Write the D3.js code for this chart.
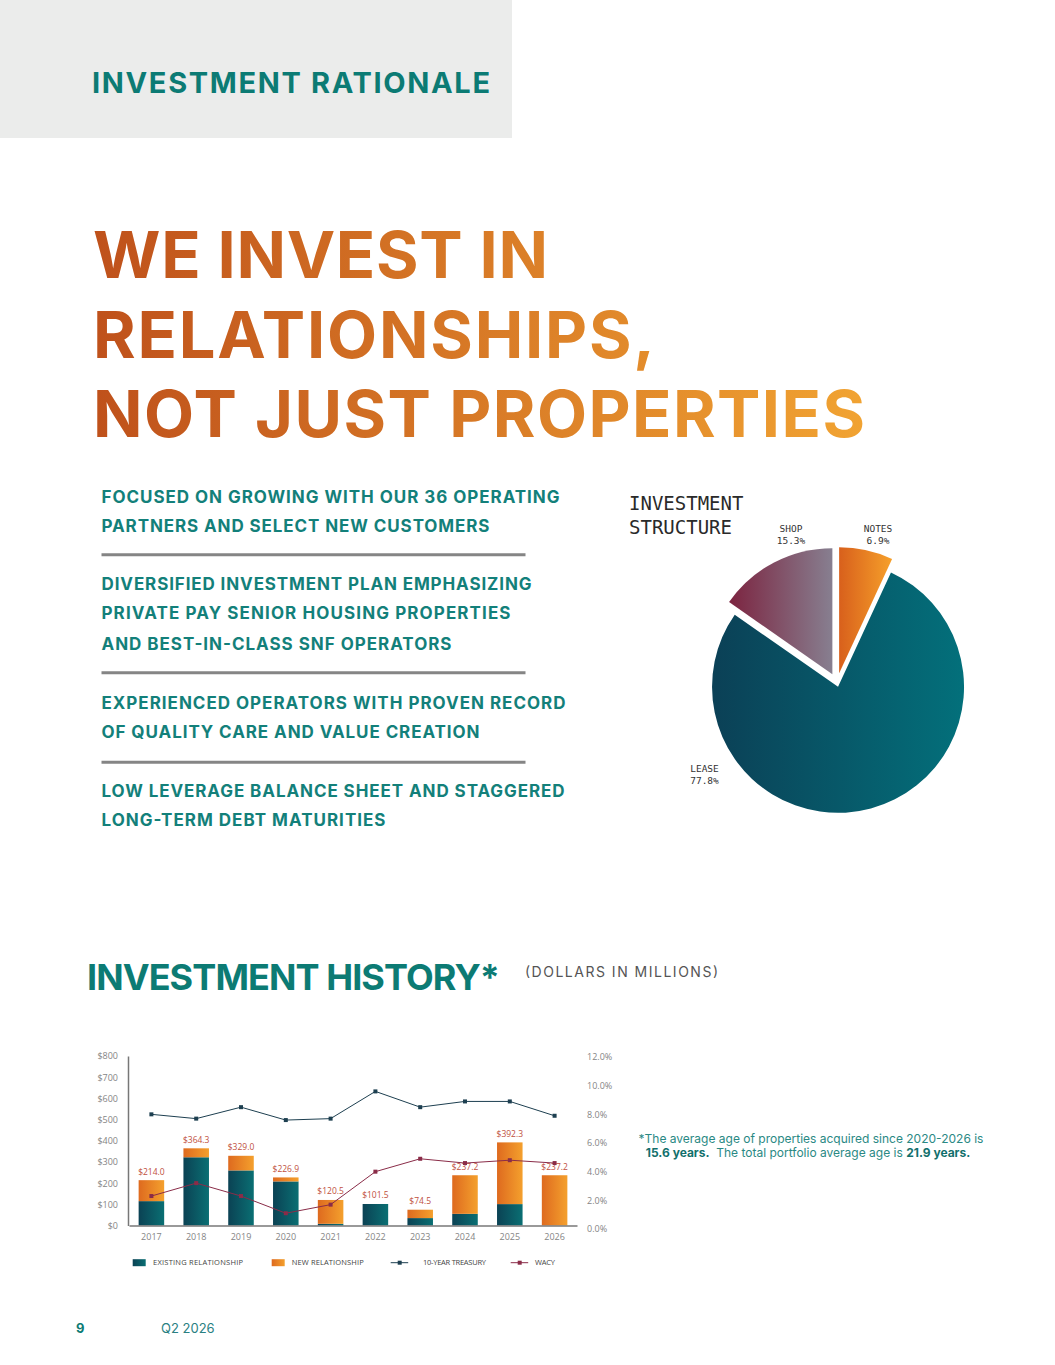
<!DOCTYPE html>
<html>
<head>
<meta charset="utf-8">
<script src="https://cdn.jsdelivr.net/npm/d3@7"></script>
<style>
  body { margin: 0; background: #fff; }
  svg { display: block; }
</style>
</head>
<body>
<div id="page"></div>
<script>
// ---- data ----
const years = ["2017", "2018", "2019", "2020", "2021", "2022", "2023", "2024", "2025", "2026"];
const existingRel = [115, 322, 260, 208, 8, 101.5, 35, 55, 101, 0];
const newRel = [99.0, 42.3, 69.0, 18.9, 112.5, 0, 39.5, 182.2, 291.3, 237.2];
const totals = [214.0, 364.3, 329.0, 226.9, 120.5, 101.5, 74.5, 237.2, 392.3, 237.2];
const treasury = [8.0, 7.7, 8.5, 7.6, 7.7, 9.6, 8.5, 8.9, 8.9, 7.9];
const wacy = [2.3, 3.2, 2.3, 1.1, 1.7, 4.0, 4.9, 4.6, 4.8, 4.6];
const dollarTicks = [0, 100, 200, 300, 400, 500, 600, 700, 800];
const pctTicks = [0, 2, 4, 6, 8, 10, 12];
const legendLabels = ["EXISTING RELATIONSHIP", "NEW RELATIONSHIP", "10-YEAR TREASURY", "WACY"];

const pieLabels = ["NOTES", "LEASE", "SHOP"];
const pieValues = [6.9, 77.8, 15.3];

const bulletGroups = [
  ["FOCUSED ON GROWING WITH OUR 36 OPERATING", "PARTNERS AND SELECT NEW CUSTOMERS"],
  ["DIVERSIFIED INVESTMENT PLAN EMPHASIZING", "PRIVATE PAY SENIOR HOUSING PROPERTIES", "AND BEST-IN-CLASS SNF OPERATORS"],
  ["EXPERIENCED OPERATORS WITH PROVEN RECORD", "OF QUALITY CARE AND VALUE CREATION"],
  ["LOW LEVERAGE BALANCE SHEET AND STAGGERED", "LONG-TERM DEBT MATURITIES"]
];
const titleLines = ["WE INVEST IN", "RELATIONSHIPS,", "NOT JUST PROPERTIES"];

// ---- page ----
const W = 1055, H = 1365;
const teal = "#0c7b74";
const svg = d3.select("#page").append("svg")
  .attr("width", W)
  .attr("height", H);
const defs = svg.append("defs");

function hGrad(id, from, to, attrs) {
  const g = defs.append("linearGradient").attr("id", id)
    .attr("x1", 0).attr("x2", 1).attr("y1", 0).attr("y2", 0);
  if (attrs) Object.entries(attrs).forEach(([k, v]) => g.attr(k, v));
  g.append("stop").attr("offset", "0%").attr("stop-color", from);
  g.append("stop").attr("offset", "100%").attr("stop-color", to);
  return g;
}
hGrad("titleGrad", "#bf511b", "#f1a332", {gradientUnits: "userSpaceOnUse", x1: 93, x2: 865});
hGrad("existGrad", "#0b4254", "#0a6f73");
hGrad("newGrad", "#de6a1f", "#f4a02d");
hGrad("leaseGrad", "#0b4056", "#03707b");
hGrad("shopGrad", "#7c2440", "#877f90");
hGrad("notesGrad", "#d8601c", "#f6a02a");

// header box
svg.append("rect")
  .attr("x", 0).attr("y", 0)
  .attr("width", 512).attr("height", 138)
  .attr("fill", "#ebeceb");
svg.append("text")
  .text("INVESTMENT RATIONALE")
  .attr("x", 92).attr("y", 93)
  .attr("font-family", "Inter").attr("font-weight", 700)
  .attr("font-size", 29)
  .attr("textLength", 398).attr("lengthAdjust", "spacing")
  .attr("fill", teal);

// big title
const titleWidths = [455, 562, 772];
svg.selectAll(".title-line")
  .data(titleLines)
  .enter().append("text")
    .attr("class", "title-line")
    .text(d => d)
    .attr("x", 93)
    .attr("y", (d, i) => 278 + i * 79.5)
    .attr("font-family", "Inter").attr("font-weight", 700)
    .attr("font-size", 65)
    .attr("textLength", (d, i) => titleWidths[i]).attr("lengthAdjust", "spacing")
    .attr("fill", "url(#titleGrad)");

// bullets
const bulletBaselines = [[502.7, 531.7], [590, 619.3, 650], [709.3, 738.3], [796.7, 826]];
const bulletLens = [[458, 388], [430, 409, 350], [464, 378], [463, 284]];
const separators = [554.7, 672.7, 762.3];
bulletGroups.forEach((grp, gi) => {
  grp.forEach((line, li) => {
    svg.append("text")
      .text(line)
      .attr("x", 101.5)
      .attr("y", bulletBaselines[gi][li])
      .attr("font-family", "Inter").attr("font-weight", 700)
      .attr("font-size", 17)
      .attr("textLength", bulletLens[gi][li]).attr("lengthAdjust", "spacing")
      .attr("fill", "#13807a");
  });
});
svg.selectAll(".sep")
  .data(separators)
  .enter().append("line")
    .attr("x1", 101.5).attr("x2", 525.5)
    .attr("y1", d => d).attr("y2", d => d)
    .attr("stroke", "#858585")
    .attr("stroke-width", 3);

// ---- pie ----
const pieTitle = svg.append("text")
  .attr("font-family", "DejaVu Sans Mono")
  .attr("font-size", 19)
  .attr("fill", "#2a2a2a");
pieTitle.append("tspan").text("INVESTMENT").attr("x", 629).attr("y", 509.5);
pieTitle.append("tspan").text("STRUCTURE").attr("x", 629).attr("y", 534);

const pieCx = 837, pieCy = 683, pieR = 126;
const pieGrads = {NOTES: "url(#notesGrad)", LEASE: "url(#leaseGrad)", SHOP: "url(#shopGrad)"};
const pieOffsets = {NOTES: 10, LEASE: 4, SHOP: 10};
const pie = d3.pie().sort(null).value(d => d.value);
const arc = d3.arc().innerRadius(0).outerRadius(pieR);
const pieData = pie(pieLabels.map((l, i) => ({label: l, value: pieValues[i]})));
const pieG = svg.append("g").attr("transform", `translate(${pieCx},${pieCy})`);
pieG.selectAll("path")
  .data(pieData)
  .enter().append("path")
    .attr("d", arc)
    .attr("transform", d => {
      const a = (d.startAngle + d.endAngle) / 2;
      const off = pieOffsets[d.data.label];
      return `translate(${Math.sin(a) * off},${-Math.cos(a) * off})`;
    })
    .attr("fill", d => pieGrads[d.data.label]);

// pie labels
const pieLabelPos = {SHOP: [791, 531.7], NOTES: [878, 531.7], LEASE: [704.5, 771.7]};
pieData.forEach(d => {
  const [lx, ly] = pieLabelPos[d.data.label];
  const t = svg.append("text")
    .attr("font-family", "DejaVu Sans Mono")
    .attr("font-size", 9.5)
    .attr("text-anchor", "middle")
    .attr("fill", "#333");
  t.append("tspan").text(d.data.label).attr("x", lx).attr("y", ly);
  t.append("tspan").text(d.data.value.toFixed(1) + "%").attr("x", lx).attr("y", ly + 12);
});

// ---- investment history ----
svg.append("text")
  .text("INVESTMENT HISTORY*")
  .attr("x", 87).attr("y", 990)
  .attr("font-family", "Inter").attr("font-weight", 700)
  .attr("font-size", 36)
  .attr("textLength", 413).attr("lengthAdjust", "spacing")
  .attr("fill", teal);
svg.append("text")
  .text("(DOLLARS IN MILLIONS)")
  .attr("x", 525).attr("y", 977)
  .attr("font-family", "Inter").attr("font-weight", 400)
  .attr("font-size", 14)
  .attr("textLength", 193).attr("lengthAdjust", "spacing")
  .attr("fill", "#555");

const x = d3.scaleBand()
  .domain(years)
  .range([129, 577])
  .paddingInner(0.43)
  .paddingOuter(0.215);
const yL = d3.scaleLinear().domain([0, 800]).range([1225.5, 1056]);
const yR = d3.scaleLinear().domain([0, 12]).range([1229, 1057]);

const tickFont = g => g.selectAll("text")
  .attr("font-family", "Open Sans")
  .attr("font-size", 9)
  .attr("fill", "#858585");

// bars
const barG = svg.append("g");
years.forEach((yr, i) => {
  barG.append("rect")
    .attr("x", x(yr)).attr("width", x.bandwidth())
    .attr("y", yL(existingRel[i]))
    .attr("height", yL(0) - yL(existingRel[i]))
    .attr("fill", "url(#existGrad)");
  barG.append("rect")
    .attr("x", x(yr)).attr("width", x.bandwidth())
    .attr("y", yL(existingRel[i] + newRel[i]))
    .attr("height", yL(0) - yL(newRel[i]))
    .attr("fill", "url(#newGrad)");
  barG.append("text")
    .text("$" + totals[i].toFixed(1))
    .attr("x", x(yr) + x.bandwidth() / 2)
    .attr("y", yL(totals[i]) - 5.5)
    .attr("text-anchor", "middle")
    .attr("font-family", "Open Sans")
    .attr("font-size", 8.5)
    .attr("fill", "#c0503e");
});

// axes
const leftAxis = svg.append("g")
  .attr("transform", "translate(128,0)")
  .call(d3.axisLeft(yL).tickValues(dollarTicks).tickFormat(d => "$" + d).tickSize(0).tickPadding(10));
leftAxis.select(".domain").attr("stroke", "#777").attr("stroke-width", 1.5);
tickFont(leftAxis);

const bottomAxis = svg.append("g")
  .attr("transform", `translate(0,${yL(0)})`)
  .call(d3.axisBottom(x).tickSize(0).tickPadding(8));
bottomAxis.select(".domain").attr("stroke", "#777").attr("stroke-width", 1.5);
tickFont(bottomAxis);

const rightAxis = svg.append("g")
  .attr("transform", "translate(587,0)")
  .call(d3.axisRight(yR).tickValues(pctTicks).tickFormat(d => d.toFixed(1) + "%").tickSize(0).tickPadding(0));
rightAxis.select(".domain").remove();
tickFont(rightAxis);

// lines
const cx = i => x(years[i]) + x.bandwidth() / 2;
const line = d3.line()
  .x((d, i) => cx(i))
  .y(d => yR(d));
[[treasury, "#1d3f50"], [wacy, "#8a2c48"]].forEach(([series, color]) => {
  svg.append("path")
    .datum(series)
    .attr("d", line)
    .attr("fill", "none")
    .attr("stroke", color)
    .attr("stroke-width", 1);
  svg.selectAll(null)
    .data(series)
    .enter().append("rect")
      .attr("x", (d, i) => cx(i) - 2)
      .attr("y", d => yR(d) - 2)
      .attr("width", 4).attr("height", 4)
      .attr("fill", color);
});

// legend
const legendY = 1262.7;
const legendX = [132.7, 271.7, 390.7, 510.7];
const legendTextX = [153, 291.7, 423, 535];
const legendLens = [90, 72, 63, 20];
legendLabels.forEach((lab, i) => {
  const lx = legendX[i];
  if (i < 2) {
    svg.append("rect")
      .attr("x", lx).attr("y", legendY - 3.5)
      .attr("width", 13).attr("height", 7)
      .attr("fill", i === 0 ? "url(#existGrad)" : "url(#newGrad)");
  } else {
    const color = i === 2 ? "#1d3f50" : "#8a2c48";
    svg.append("line")
      .attr("x1", lx).attr("x2", lx + 17.5)
      .attr("y1", legendY).attr("y2", legendY)
      .attr("stroke", color).attr("stroke-width", 1);
    svg.append("rect")
      .attr("x", lx + 7).attr("y", legendY - 2)
      .attr("width", 4).attr("height", 4)
      .attr("fill", color);
  }
  svg.append("text")
    .text(lab)
    .attr("x", legendTextX[i]).attr("y", legendY + 2.7)
    .attr("font-family", "Open Sans")
    .attr("font-size", 7.5)
    .attr("textLength", legendLens[i]).attr("lengthAdjust", "spacing")
    .attr("fill", "#444");
});

// footnote
svg.append("text")
  .attr("x", 811).attr("y", 1143)
  .attr("text-anchor", "middle")
  .attr("font-family", "Inter").attr("font-size", 12)
  .attr("fill", "#2a8984")
  .text("*The average age of properties acquired since 2020-2026 is");
const note2 = svg.append("text")
  .attr("x", 808).attr("y", 1157)
  .attr("text-anchor", "middle")
  .attr("font-family", "Inter").attr("font-size", 12)
  .attr("fill", "#2a8984")
  .attr("xml:space", "preserve");
note2.append("tspan").text("15.6 years.").attr("font-weight", 700).attr("fill", "#12706c");
note2.append("tspan").text("  The total portfolio average age is ");
note2.append("tspan").text("21.9 years.").attr("font-weight", 700).attr("fill", "#12706c");

// footer
svg.append("text")
  .text("9")
  .attr("x", 76).attr("y", 1333)
  .attr("font-family", "Inter").attr("font-weight", 700)
  .attr("font-size", 13)
  .attr("fill", teal);
svg.append("text")
  .text("Q2 2026")
  .attr("x", 161).attr("y", 1333)
  .attr("font-family", "Inter").attr("font-size", 13)
  .attr("fill", "#2a8082");
</script>
</body>
</html>
